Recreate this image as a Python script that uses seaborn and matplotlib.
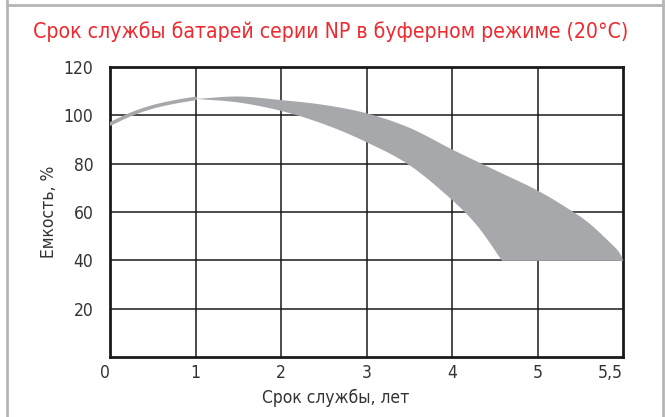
import matplotlib
matplotlib.use('Agg')

import matplotlib.pyplot as plt
import seaborn as sns
import numpy as np
import pandas as pd
from matplotlib.lines import Line2D
from matplotlib import font_manager

# 数据：近似值（x 单位：年）
years_line = [0, 0.25, 0.5, 0.75, 1.0]
cap_line = [96.4, 100.5, 103.5, 105.5, 107.0]

years_upper = [1.0, 1.5, 2.0, 2.5, 3.0, 3.5, 4.0, 4.5, 5.0, 5.2, 5.3, 5.4, 5.47, 5.5]
cap_upper = [107.0, 108.0, 106.5, 104.5, 101.0, 95.0, 86.0, 77.5, 69.0, 60.5, 55.5, 49.0, 44.0, 40.0]

years_lower = [1.0, 1.5, 2.0, 2.5, 3.0, 3.5, 4.0, 4.3, 4.58]
cap_lower = [107.0, 105.5, 102.0, 96.5, 89.0, 79.5, 65.0, 54.0, 40.0]
floor_cap = 40.0

x_ticks = [0, 1, 2, 3, 4, 5, 5.5]
x_labels = ['0', '1', '2', '3', '4', '5', '5,5']
y_ticks = [20, 40, 60, 80, 100, 120]

title = 'Срок службы батарей серии NP в буферном режиме (20°C)'
band_color = '#a7a8ab'
text_color = '#333333'


def to_pos(y):
    """原图横轴不等距：5 到 5.5 年占一个整格。"""
    y = np.asarray(y, dtype=float)
    return np.where(y <= 5, y, 5 + (y - 5) * 2)


def smooth(xs, ys, n=30):
    """Catmull-Rom 平滑，只用于画线，不改变读出的点。"""
    xs = np.asarray(xs, float)
    ys = np.asarray(ys, float)
    px = np.concatenate([[2 * xs[0] - xs[1]], xs, [2 * xs[-1] - xs[-2]]])
    py = np.concatenate([[2 * ys[0] - ys[1]], ys, [2 * ys[-1] - ys[-2]]])
    ox, oy = [], []
    t = np.linspace(0, 1, n, endpoint=False)
    for i in range(1, len(px) - 2):
        for arr, out in ((px, ox), (py, oy)):
            p0, p1, p2, p3 = arr[i - 1:i + 3]
            out.extend(0.5 * ((2 * p1) + (-p0 + p2) * t +
                              (2 * p0 - 5 * p1 + 4 * p2 - p3) * t ** 2 +
                              (-p0 + 3 * p1 - 3 * p2 + p3) * t ** 3))
    ox.append(xs[-1])
    oy.append(ys[-1])
    return np.array(ox), np.array(oy)


sns.set_theme(style='white')
names = {f.name for f in font_manager.fontManager.ttflist}
fam = 'Liberation Sans Narrow' if 'Liberation Sans Narrow' in names else 'DejaVu Sans'
plt.rcParams['font.family'] = [fam, 'DejaVu Sans']
plt.rcParams['font.stretch'] = 'condensed'

fig = plt.figure(figsize=(6.65, 4.17), dpi=100)
ax = fig.add_axes([110 / 665, 1 - 357 / 417, 513 / 665, 290 / 417])

# 上下包络线平滑后填充
ux, uy = smooth(to_pos(years_upper), cap_upper)
lx, ly = smooth(to_pos(years_lower), cap_lower)
grid = np.linspace(1.0, 6.0, 600)
up = np.interp(grid, ux, uy)
lo = np.where(grid <= lx[-1], np.interp(grid, lx, ly), floor_cap)
lo = np.maximum(lo, floor_cap)
ax.fill_between(grid, lo, up, color=band_color, lw=0, zorder=3)

sx, sy = smooth(to_pos(years_line), cap_line)
df_line = pd.DataFrame({'pos': sx, 'cap': sy})
sns.lineplot(data=df_line, x='pos', y='cap', color=band_color, lw=2.6,
             ax=ax, zorder=3, sort=False)

ax.set_xlim(0, 6)
ax.set_ylim(0, 120)
ax.set_xticks(to_pos(x_ticks))
ax.set_xticklabels(x_labels)
ax.set_yticks(y_ticks)

for v in to_pos(x_ticks)[1:-1]:
    ax.axvline(v, color='#1a1a1a', lw=1.1, zorder=1)
for v in y_ticks[:-1]:
    ax.axhline(v, color='#1a1a1a', lw=1.1, zorder=1)

for s in ax.spines.values():
    s.set_color('#1a1a1a')
    s.set_linewidth(2.0)
    s.set_visible(True)

ax.tick_params(axis='x', length=0, pad=5, labelsize=12.5, labelcolor=text_color)
ax.tick_params(axis='y', length=0, pad=12, labelsize=12.5, labelcolor=text_color)
xl = ax.get_xticklabels()
xl[0].set_horizontalalignment('right')
xl[-1].set_horizontalalignment('right')

ax.set_xlabel('')
ax.set_ylabel('Емкость, %', fontsize=12.5, color=text_color, labelpad=4)
fig.text(336 / 665, 1 - 398 / 417, 'Срок службы, лет', fontsize=12.5,
         color=text_color, ha='center', va='center')

fig.text(331 / 665, 1 - 32 / 417, title, color='#ee2a2f', fontsize=15.2,
         ha='center', va='center')

# 外框：左、右、上三边（下边在图外）
for xs, ys in [([7, 7], [0, 417]), ([663, 663], [0, 417]), ([7, 663], [5, 5])]:
    fig.add_artist(Line2D(np.array(xs) / 665, 1 - np.array(ys) / 417,
                          color='#b5b5b5', lw=2))

fig.savefig('out.png', dpi=100)
